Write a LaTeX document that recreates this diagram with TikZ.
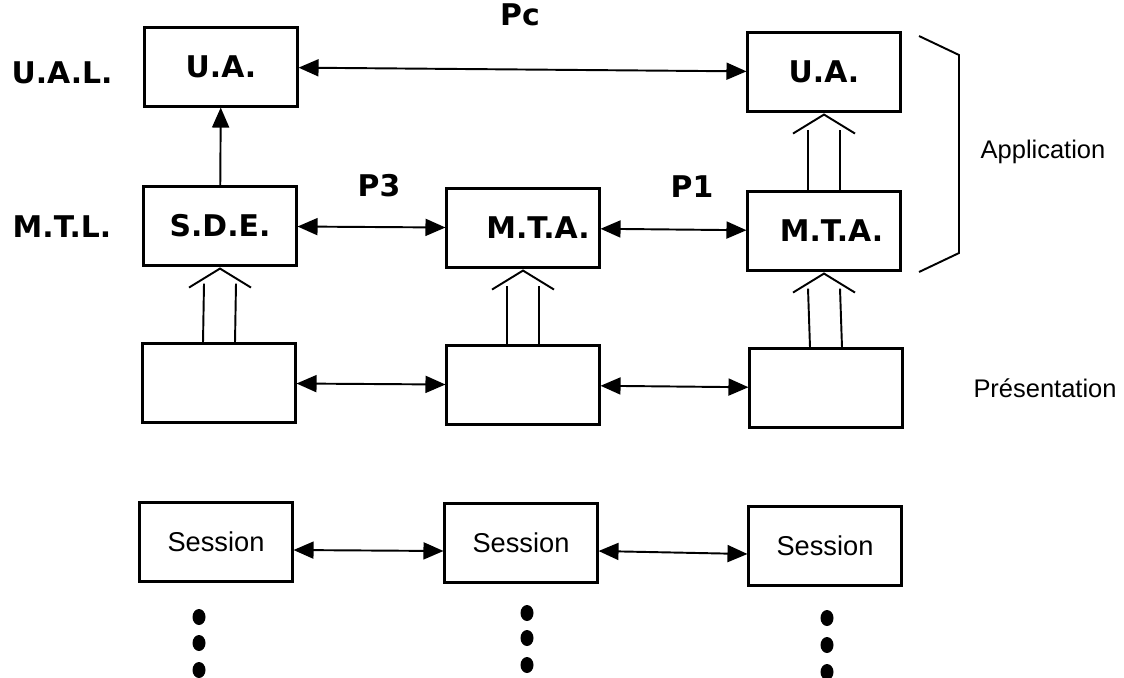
\documentclass[tikz,border=0pt]{standalone}
\usepackage{fontspec}
\setmainfont{Liberation Sans}
\newfontfamily\labelfont{DejaVu Sans}
\usetikzlibrary{arrows.meta}
\tikzset{
    layer/.style={draw, rectangle, line width=1.2pt, minimum width=3.06cm, minimum height=1.58cm, inner sep=0pt, align=center, font=\fontsize{17}{20}\labelfont\bfseries},
    session/.style={layer, font=\fontsize{15.5}{18}\selectfont},
    tag/.style={font=\fontsize{17}{20}\labelfont\bfseries},
    side/.style={font=\fontsize{14.5}{17}\selectfont},
    arrow/.style={draw, {Triangle[length=0.4cm, width=0.34cm]}-{Triangle[length=0.4cm, width=0.34cm]}, line width=1.1pt},
    uparrow/.style={draw, -{Triangle[length=0.4cm, width=0.34cm]}, line width=1.1pt},
    link/.style={draw, line width=1.1pt}
}

\begin{document}
\begin{tikzpicture}[x=0.02cm, y=-0.02cm]
    \useasboundingbox (0,0) rectangle (1124,677);

    % layer boxes
    \node [layer] (ua1) at (221,67) {U.A.};
    \node [layer] (ua2) at (824,72) {U.A.};
    \node [layer] (sde) at (220,226) {S.D.E.};
    \node [layer] (mta1) at (523,228) {\hspace*{0.6cm}M.T.A.};
    \node [layer] (mta2) at (824,231) {\hspace*{0.3cm}M.T.A.};
    \node [layer] (pr1) at (219,383) {};
    \node [layer] (pr2) at (523,385) {};
    \node [layer] (pr3) at (826,388) {};
    \node [session] (se1) at (216,542) {Session};
    \node [session] (se2) at (521,543) {Session};
    \node [session] (se3) at (825,546) {Session};

    % side labels
    \node [tag] (ual) at (62,73) {U.A.L.};
    \node [tag] (mtl) at (62,227) {M.T.L.};
    \node [tag] (pc) at (520,15) {Pc};
    \node [tag] (p3) at (379,186) {P3};
    \node [tag] (p1) at (692,187) {P1};
    \node [side] (app) at (1043,152) {Application};
    \node [side] (pres) at (1045,388) {Présentation};

    % connections
    \draw [arrow] (ua1) -- (ua2);
    \draw [uparrow] (sde) -- (ua1);
    \draw [arrow] (sde) -- (mta1);
    \draw [arrow] (mta1) -- (mta2);
    \draw [arrow] (pr1) -- (pr2);
    \draw [arrow] (pr2) -- (pr3);
    \draw [arrow] ([yshift=-0.16cm]se1.east) -- ([yshift=-0.16cm]se2.west);
    \draw [arrow] ([yshift=-0.16cm]se2.east) -- ([yshift=-0.16cm]se3.west);

    % open double arrows
    \foreach \lo/\up in {pr1/sde, pr2/mta1, pr3/mta2, mta2/ua2} {
        \draw [link] ([xshift=-0.32cm]\lo.north) -- ([xshift=-0.32cm, yshift=-0.34cm]\up.south);
        \draw [link] ([xshift=0.32cm]\lo.north) -- ([xshift=0.32cm, yshift=-0.34cm]\up.south);
        \draw [link] ([xshift=-0.62cm, yshift=-0.42cm]\up.south) -- ([yshift=-0.04cm]\up.south) -- ([xshift=0.62cm, yshift=-0.42cm]\up.south);
    }

    % bracket
    \draw [link] (919,36) -- (959,55) -- (959,253) -- (919,272);

    % dots
    \foreach \x/\y in {199/617, 199/643, 199/670, 527/613, 527/638, 527/665, 827/618, 827/645, 827/672}
        \fill (\x,\y) ellipse [x radius=0.13cm, y radius=0.16cm];
\end{tikzpicture}
\end{document}
